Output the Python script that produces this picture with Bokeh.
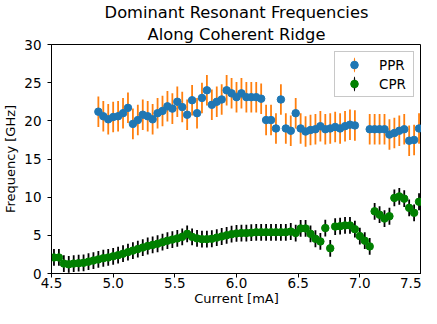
import numpy as np
from bokeh.plotting import figure
from bokeh.models import ColumnDataSource, Legend, LegendItem, FixedTicker, Title
from bokeh.embed import file_html
from bokeh.resources import INLINE

NaN = float("nan")

title_lines = ["Dominant Resonant Frequencies", "Along Coherent Ridge"]
x_label = "Current [mA]"
y_label = "Frequency [GHz]"

current = [4.52, 4.56, 4.60, 4.64, 4.68, 4.72, 4.76, 4.80, 4.84, 4.88,
           4.92, 4.96, 5.00, 5.04, 5.08, 5.12, 5.16, 5.20, 5.24, 5.28,
           5.32, 5.36, 5.40, 5.44, 5.48, 5.52, 5.56, 5.60, 5.64, 5.68,
           5.72, 5.76, 5.80, 5.84, 5.88, 5.92, 5.96, 6.00, 6.04, 6.08,
           6.12, 6.16, 6.20, 6.24, 6.28, 6.32, 6.36, 6.40, 6.44, 6.48,
           6.52, 6.56, 6.60, 6.64, 6.68, 6.72, 6.76, 6.80, 6.84, 6.88,
           6.92, 6.96, 7.00, 7.04, 7.08, 7.12, 7.16, 7.20, 7.24, 7.28,
           7.32, 7.36, 7.40, 7.44, 7.48]

ppr_freq = [NaN, NaN, NaN, NaN, NaN, NaN, NaN, NaN, NaN, 21.2,
            20.6, 20.2, 20.5, 20.6, 21.0, 21.7, 19.6, 20.1, 20.8, 20.6,
            20.2, 21.0, 21.3, 21.9, 21.6, 22.5, 21.8, 20.8, 22.7, 21.0,
            23.0, 24.0, 22.1, 22.5, 22.8, 24.0, 23.6, 23.1, 23.6, 23.1,
            23.1, 23.1, 22.9, 20.1, 20.1, 19.0, 22.8, 19.0, 18.7, 21.0,
            19.0, 18.6, 18.8, 18.9, 19.3, 18.9, 19.0, 19.2, 19.0, 19.3,
            19.5, 19.4, NaN, NaN, 18.9, 18.9, 18.9, 18.9, 18.2, 18.4,
            18.7, 18.9, 17.4, 17.5, 19.0]
ppr_err = [2.0] * 75

cpr_freq = [2.1, 2.1, 1.3, 1.2, 1.3, 1.35, 1.4, 1.55, 1.7, 1.85,
            2.0, 2.1, 2.25, 2.4, 2.6, 2.8, 3.0, 3.2, 3.4, 3.6,
            3.75, 3.9, 4.1, 4.3, 4.45, 4.6, 4.8, 5.2, 4.8, 4.6,
            4.5, 4.5, 4.55, 4.7, 4.85, 5.0, 5.15, 5.25, 5.3, 5.3,
            5.35, 5.4, 5.4, 5.4, 5.4, 5.4, 5.4, 5.4, 5.5, 5.3,
            5.9, 5.9, 5.2, 4.55, 4.2, 5.95, 3.3, 6.15, 6.2, 6.3,
            6.3, 5.8, 4.9, 4.3, 3.55, 8.15, 7.7, 7.2, 7.5, 9.9,
            10.1, 9.8, 8.6, 7.95, 9.4]
cpr_err = [1.1] * 75

x_ticks = [4.5, 5.0, 5.5, 6.0, 6.5, 7.0, 7.5]
x_tick_labels = ["4.5", "5.0", "5.5", "6.0", "6.5", "7.0", "7.5"]
y_ticks = [0, 5, 10, 15, 20, 25, 30]
y_tick_labels = ["0", "5", "10", "15", "20", "25", "30"]

FONT = "DejaVu Sans"
BLUE = "#1f77b4"
ORANGE = "#ff7f0e"
GREEN = "#008000"

ppr_f = np.array(ppr_freq)
ppr_e = np.array(ppr_err)
cpr_f = np.array(cpr_freq)
cpr_e = np.array(cpr_err)

ppr_src = ColumnDataSource(dict(x=current, y=ppr_f, lo=ppr_f - ppr_e, hi=ppr_f + ppr_e))
cpr_src = ColumnDataSource(dict(x=current, y=cpr_f, lo=cpr_f - cpr_e, hi=cpr_f + cpr_e))
dummy = ColumnDataSource(dict(x=[NaN], y=[NaN]))

p = figure(width=421, height=308, x_range=(4.5, 7.5), y_range=(0, 30),
           output_backend="svg", toolbar_location=None, title=title_lines[0],
           min_border_left=45, min_border_right=0, min_border_top=0, min_border_bottom=0)

p.title.align = "center"
p.title.text_font = FONT
p.title.text_font_size = "16.3px"
p.title.text_font_style = "normal"
p.title.text_color = "black"
p.title.standoff = 0
p.add_layout(Title(text=title_lines[1], align="center", text_font=FONT,
                   text_font_size="16.3px", text_font_style="normal",
                   text_color="black", standoff=2), "above")

p.xgrid.visible = False
p.ygrid.visible = False
p.outline_line_color = "black"
p.outline_line_width = 1
p.background_fill_color = "white"
p.border_fill_color = "white"

for ax in (p.xaxis[0], p.yaxis[0]):
    ax.axis_line_color = "black"
    ax.major_tick_line_color = "black"
    ax.minor_tick_line_color = None
    ax.major_tick_in = 0
    ax.major_tick_out = 4
    ax.major_label_text_font = FONT
    ax.major_label_text_font_size = "13.5px"
    ax.major_label_text_color = "black"
    ax.major_label_text_line_height = 1.0
    ax.axis_label_text_font = FONT
    ax.axis_label_text_font_size = "13px"
    ax.axis_label_text_font_style = "normal"
    ax.axis_label_text_color = "black"
    ax.axis_label_text_line_height = 1.0

p.xaxis.ticker = FixedTicker(ticks=x_ticks)
p.xaxis.major_label_overrides = {t: l for t, l in zip(x_ticks, x_tick_labels)}
p.yaxis.ticker = FixedTicker(ticks=y_ticks)
p.yaxis.major_label_overrides = {t: l for t, l in zip(y_ticks, y_tick_labels)}
p.xaxis.axis_label = x_label
p.yaxis.axis_label = y_label
p.xaxis.major_label_standoff = 0
p.xaxis.axis_label_standoff = 0
p.yaxis.major_label_standoff = 6
p.yaxis.axis_label_standoff = 3

# PPR
p.segment(x0="x", y0="lo", x1="x", y1="hi", source=ppr_src, line_color=ORANGE, line_width=1.8)
ppr_r = p.scatter(x="x", y="y", source=ppr_src, size=7.5, fill_color=BLUE, line_color=BLUE)
# CPR
p.segment(x0="x", y0="lo", x1="x", y1="hi", source=cpr_src, line_color="black", line_width=1.8)
cpr_r = p.scatter(x="x", y="y", source=cpr_src, size=7.5, fill_color=GREEN, line_color=GREEN)

# legend-only error-bar strokes (no data, nothing drawn in the plot)
ppr_bar = p.ellipse(x="x", y="y", width=1.8, height=15.2, width_units="screen",
                    height_units="screen", source=dummy, fill_color=ORANGE, line_color=None)
cpr_bar = p.ellipse(x="x", y="y", width=1.8, height=15.2, width_units="screen",
                    height_units="screen", source=dummy, fill_color="black", line_color=None)

legend = Legend(items=[LegendItem(label="PPR", renderers=[ppr_bar, ppr_r]),
                       LegendItem(label="CPR", renderers=[cpr_bar, cpr_r])],
                location="top_right", padding=3, spacing=0, margin=7,
                glyph_width=32, glyph_height=19, label_height=19, label_width=31,
                label_standoff=9, border_line_color="#c8c8c8", border_line_width=1,
                border_line_alpha=1.0, background_fill_color="white", background_fill_alpha=0.8,
                label_text_font=FONT, label_text_font_size="13.5px", label_text_color="black")
p.add_layout(legend, "center")

open("out.html", "w").write(file_html(p, INLINE))
